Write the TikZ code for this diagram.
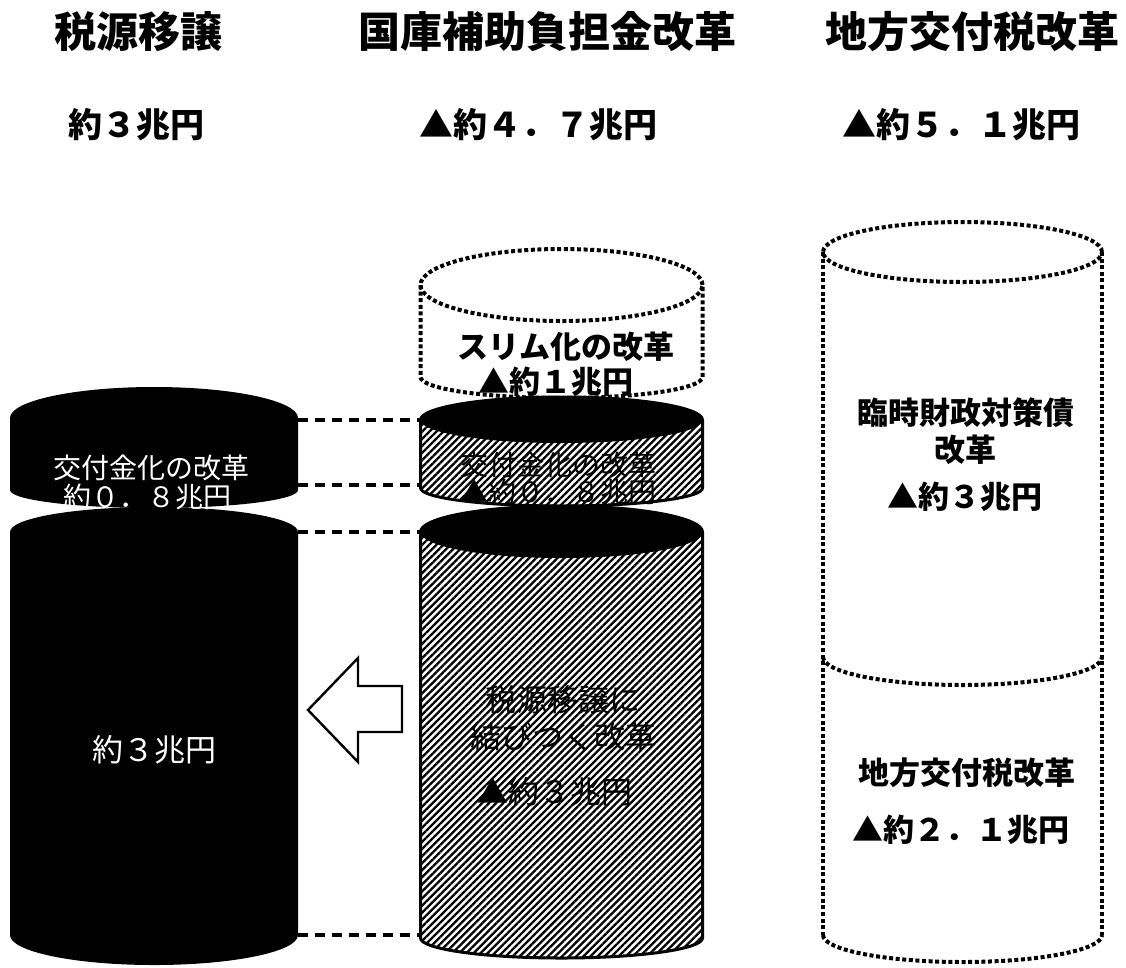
\documentclass[tikz,border=0pt]{standalone}
\usepackage{fontspec}
\newfontfamily\jp{Noto Sans CJK JP}
\usetikzlibrary{patterns.meta}
\begin{document}
\begin{tikzpicture}[x=1pt,y=1pt,
  dotline/.style={line width=4pt, dash pattern=on 4pt off 2.6pt},
  dashline/.style={line width=3.2pt, dash pattern=on 10pt off 7pt},
  hatch/.style={pattern={Lines[angle=45,distance=5pt,line width=2.3pt]}},
  outl/.style={line width=3pt},
  title/.style={inner sep=0pt, font=\jp\bfseries\fontsize{42}{50}\selectfont},
  sub/.style={inner sep=0pt, font=\jp\bfseries\fontsize{34}{40}\selectfont},
  inb/.style={inner sep=0pt, font=\jp\bfseries\fontsize{31}{36}\selectfont},
  inr/.style={inner sep=0pt, font=\jp\fontsize{31}{36}\selectfont},
  ins/.style={inner sep=0pt, font=\jp\fontsize{28}{32}\selectfont}]
\useasboundingbox[fill=white] (0,0) rectangle (1126,-967);

% titles
\node[title] (t1) at (138,-32) {税源移譲};
\node[title] (t2) at (547.5,-32) {国庫補助負担金改革};
\node[title] (t3) at (972.5,-32) {地方交付税改革};
\node[sub] (s1) at (136.5,-125) {約３兆円};
\node[sub] (s2) at (538.5,-125) {▲約４．７兆円};
\node[sub] (s3) at (961,-125) {▲約５．１兆円};

% left black cylinder
\fill (10,-418) arc[start angle=180,end angle=0,x radius=144,y radius=31]
  -- (298,-490) arc[start angle=0,end angle=-180,x radius=144,y radius=18] -- cycle;
\fill (10,-532) arc[start angle=180,end angle=0,x radius=144,y radius=25]
  -- (298,-935) arc[start angle=0,end angle=-180,x radius=144,y radius=30] -- cycle;
\node[ins,text=white] (l1) at (151.5,-468) {交付金化の改革};
\node[ins,text=white] (l2) at (147,-497) {約０．８兆円};
\node[inr,text=white] (l3) at (154.5,-750) {約３兆円};

% middle: dotted top cylinder
\draw[dotline] (561.5,-285) ellipse[x radius=141,y radius=36];
\draw[dotline] (420.5,-285) -- (420.5,-377)
  arc[start angle=180,end angle=360,x radius=141,y radius=21] -- (702.5,-285);
\node[inb] (m1) at (566,-347) {スリム化の改革};
\node[inb] (m2) at (555.5,-382) {▲約１兆円};

% middle: hatched disk
\fill[white] (420.5,-420) arc[start angle=180,end angle=0,x radius=141,y radius=23]
  -- (702.5,-488) arc[start angle=0,end angle=-180,x radius=141,y radius=18] -- cycle;
\fill[hatch] (420.5,-420) arc[start angle=180,end angle=0,x radius=141,y radius=23]
  -- (702.5,-488) arc[start angle=0,end angle=-180,x radius=141,y radius=18] -- cycle;
\fill (561.5,-420) ellipse[x radius=141,y radius=23];
\draw[outl] (420.5,-420) arc[start angle=180,end angle=0,x radius=141,y radius=23]
  -- (702.5,-488) arc[start angle=0,end angle=-180,x radius=141,y radius=18] -- cycle;
\node[ins] (m3) at (558.5,-465) {交付金化の改革};
\node[ins] (m4) at (558,-492) {▲約０．８兆円};

% middle: hatched cylinder
\fill[white] (420.5,-532) arc[start angle=180,end angle=0,x radius=141,y radius=26]
  -- (702.5,-938) arc[start angle=0,end angle=-180,x radius=141,y radius=20] -- cycle;
\fill[hatch] (420.5,-532) arc[start angle=180,end angle=0,x radius=141,y radius=26]
  -- (702.5,-938) arc[start angle=0,end angle=-180,x radius=141,y radius=20] -- cycle;
\fill (561.5,-532) ellipse[x radius=141,y radius=26];
\draw[outl] (420.5,-532) arc[start angle=180,end angle=0,x radius=141,y radius=26]
  -- (702.5,-938) arc[start angle=0,end angle=-180,x radius=141,y radius=20] -- cycle;
\node[inr] (m5) at (562.5,-700) {税源移譲に};
\node[inr] (m6) at (563.5,-737) {結びつく改革};
\node[inr] (m7) at (555,-792) {▲約３兆円};

% right dotted cylinder
\draw[dotline] (962.5,-252) ellipse[x radius=139.5,y radius=30];
\draw[dotline] (823,-252) -- (823,-935);
\draw[dotline] (1102,-252) -- (1102,-935);
\draw[dotline] (823,-657) arc[start angle=180,end angle=360,x radius=139.5,y radius=28];
\draw[dotline] (823,-935) arc[start angle=180,end angle=360,x radius=139.5,y radius=27];
\node[inb] (r1) at (966,-413) {臨時財政対策債};
\node[inb] (r2) at (965,-450) {改革};
\node[inb] (r3) at (965,-497) {▲約３兆円};
\node[inb] (r4) at (967,-773) {地方交付税改革};
\node[inb] (r5) at (961,-830) {▲約２．１兆円};

% dashed connectors
\coordinate (a1) at (298,-420); \coordinate (b1) at (421,-420);
\coordinate (a2) at (298,-485); \coordinate (b2) at (421,-485);
\coordinate (a3) at (298,-532); \coordinate (b3) at (421,-532);
\coordinate (a4) at (298,-935); \coordinate (b4) at (421,-935);
\draw[dashline] (a1) -- (b1);
\draw[dashline] (a2) -- (b2);
\draw[dashline] (a3) -- (b3);
\draw[dashline] (a4) -- (b4);

% block arrow
\draw[line width=2.4pt, fill=white, line join=miter] (308,-710) -- (358,-658) -- (358,-686)
  -- (402,-686) -- (402,-732) -- (358,-732) -- (358,-762) -- cycle;
\end{tikzpicture}
\end{document}
